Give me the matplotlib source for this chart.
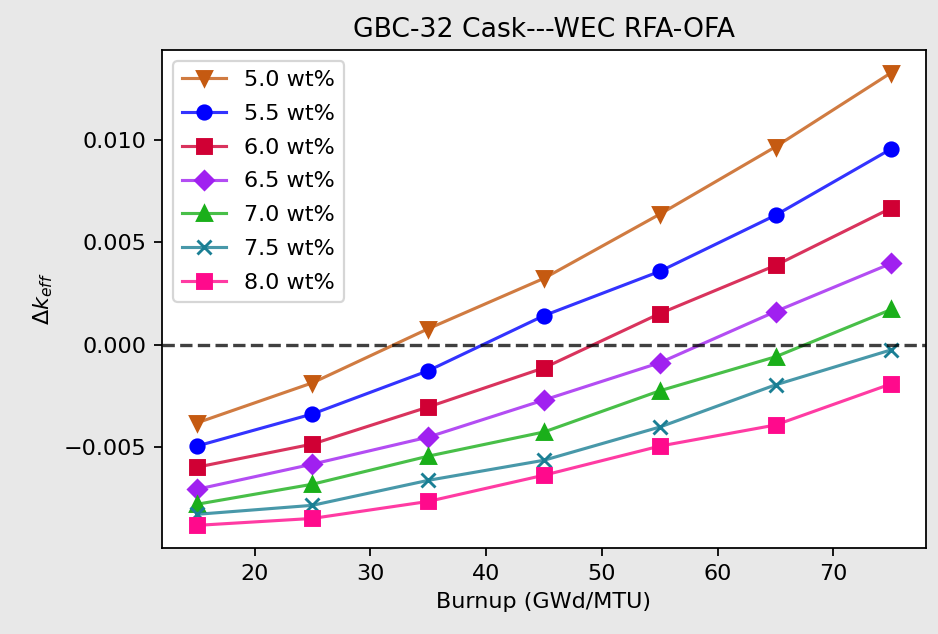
import numpy as np
import matplotlib
matplotlib.use("Agg")
import matplotlib.pyplot as plt
from matplotlib.colors import to_rgba

# Burnup points (GWd/MTU)
burnup = [15, 25, 35, 45, 55, 65, 75]

# Delta k_eff por enriquecimiento
dk_50 = [-0.00382, -0.00186, 0.00078, 0.00324, 0.00637, 0.00966, 0.01328]
dk_55 = [-0.00495, -0.00338, -0.00127, 0.00142, 0.00358, 0.00632, 0.00956]
dk_60 = [-0.00598, -0.00485, -0.00304, -0.00113, 0.00152, 0.00387, 0.00667]
dk_65 = [-0.00706, -0.00583, -0.00451, -0.00270, -0.00088, 0.00162, 0.00397]
dk_70 = [-0.00779, -0.00681, -0.00544, -0.00426, -0.00225, -0.00059, 0.00172]
dk_75 = [-0.00828, -0.00784, -0.00662, -0.00564, -0.00402, -0.00196, -0.00025]
dk_80 = [-0.00882, -0.00848, -0.00765, -0.00637, -0.00495, -0.00392, -0.00191]

etiquetas = ['5.0 wt%', '5.5 wt%', '6.0 wt%', '6.5 wt%', '7.0 wt%', '7.5 wt%', '8.0 wt%']
series = [dk_50, dk_55, dk_60, dk_65, dk_70, dk_75, dk_80]
colores = ['#c55a11', '#0000ff', '#d00034', '#a020f0', '#1aaf1a', '#1a7f94', '#ff0a8c']
marcadores = ['v', 'o', 's', 'D', '^', 'x', 's']

DPI = 160
fig = plt.figure(figsize=(938 / DPI, 634 / DPI), dpi=DPI, facecolor='#e8e8e8')
ax = fig.add_axes([0.1727, 0.1356, 0.8145, 0.7855])

for y, lab, c, m in zip(series, etiquetas, colores, marcadores):
    ax.plot(burnup, y, color=to_rgba(c, 0.8), marker=m, markersize=6,
            markerfacecolor=c, markeredgecolor=c, markeredgewidth=1.3,
            linewidth=1.4, label=lab)

ax.axhline(0, color='black', alpha=0.75, linestyle='--', linewidth=1.5)

ax.set_xlabel('Burnup (GWd/MTU)')
ax.set_ylabel(r'$\Delta k_{eff}$')
ax.set_title('GBC-32 Cask---WEC RFA-OFA')
ax.set_yticks([-0.005, 0.0, 0.005, 0.010])
ax.legend(loc='upper left', labelspacing=0.62)

plt.savefig('out.png', dpi=DPI, facecolor=fig.get_facecolor())
